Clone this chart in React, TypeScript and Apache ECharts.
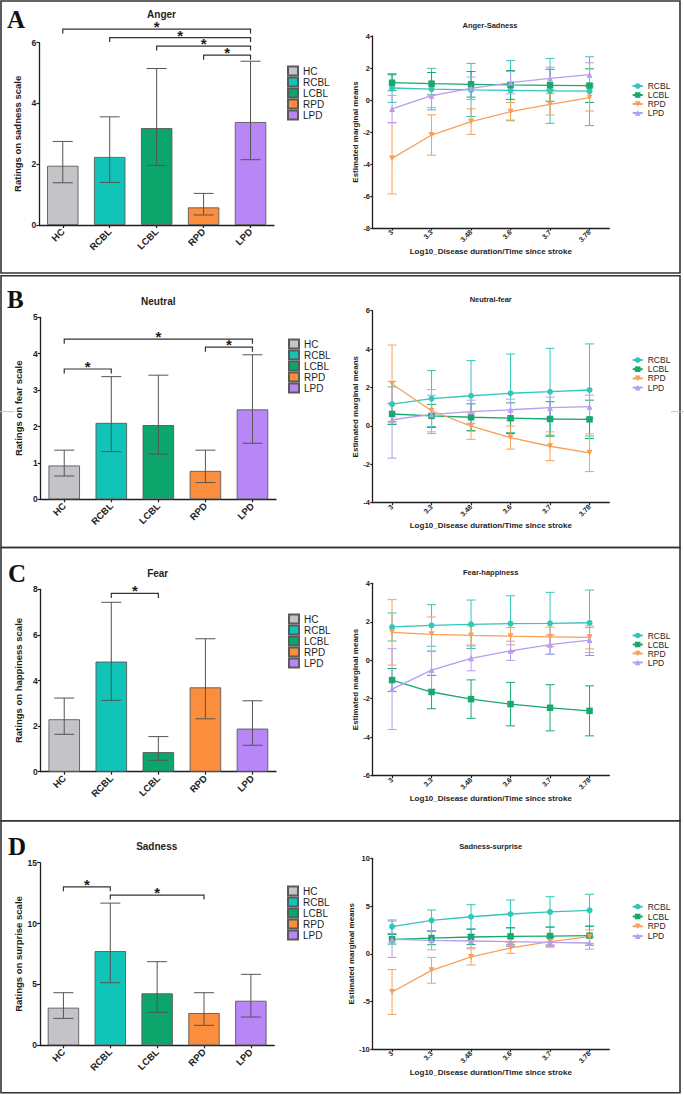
import React, { useEffect, useRef } from 'react';
import * as echarts from 'echarts';

// ---------- categories ----------
const groups = ['HC', 'RCBL', 'LCBL', 'RPD', 'LPD'];
const durations = ['3', '3.3', '3.48', '3.6', '3.7', '3.78'];
const lineGroups = ['RCBL', 'LCBL', 'RPD', 'LPD'];

// ---------- bar panels: means and CI bounds ----------
const angerMeans = [1.95, 2.24, 3.19, 0.58, 3.39];
const angerLow = [1.39, 1.40, 1.96, 0.33, 2.15];
const angerHigh = [2.75, 3.56, 5.15, 1.04, 5.39];
const angerSig = [[0, 4, 6.45], [1, 4, 6.17], [2, 4, 5.89], [3, 4, 5.59]];

const neutralMeans = [0.93, 2.10, 2.04, 0.78, 2.47];
const neutralLow = [0.64, 1.31, 1.24, 0.46, 1.54];
const neutralHigh = [1.35, 3.37, 3.41, 1.35, 3.97];
const neutralSig = [[0, 4, 4.40], [3, 4, 4.18], [0, 1, 3.58]];

const fearMeans = [2.30, 4.83, 0.86, 3.70, 1.89];
const fearLow = [1.64, 3.13, 0.50, 2.32, 1.16];
const fearHigh = [3.23, 7.43, 1.54, 5.83, 3.11];
const fearSig = [[1, 2, 7.82]];

const sadnessMeans = [3.09, 7.74, 4.27, 2.65, 3.66];
const sadnessLow = [2.21, 5.14, 2.71, 1.64, 2.32];
const sadnessHigh = [4.32, 11.68, 6.87, 4.32, 5.83];
const sadnessSig = [[0, 1, 13.02], [1, 3, 12.34]];

// ---------- line panels: estimated marginal means and CI half-widths ----------
const asRCBL = [0.75, 0.68, 0.63, 0.60, 0.57, 0.55];
const asRCBLe = [0.90, 1.30, 1.66, 1.86, 2.03, 2.15];
const asLCBL = [1.08, 1.02, 0.98, 0.94, 0.92, 0.90];
const asLCBLe = [0.50, 0.70, 0.80, 0.90, 1.00, 1.05];
const asRPD = [-3.65, -2.19, -1.35, -0.73, -0.27, 0.15];
const asRPDe = [2.22, 1.26, 0.80, 0.57, 0.67, 0.84];
const asLPD = [-0.56, 0.27, 0.73, 1.08, 1.35, 1.58];
const asLPDe = [0.85, 0.75, 0.70, 0.70, 0.70, 0.75];

const nfRCBL = [1.13, 1.42, 1.57, 1.70, 1.78, 1.87];
const nfRCBLe = [0.90, 1.46, 1.83, 2.04, 2.26, 2.40];
const nfLCBL = [0.62, 0.52, 0.45, 0.40, 0.36, 0.34];
const nfLCBLe = [0.55, 0.60, 0.70, 0.80, 0.90, 1.00];
const nfRPD = [2.18, 0.79, -0.01, -0.61, -1.06, -1.40];
const nfRPDe = [2.03, 1.10, 0.69, 0.60, 0.75, 0.98];
const nfLPD = [0.32, 0.60, 0.74, 0.84, 0.95, 1.00];
const nfLPDe = [2.00, 1.00, 0.60, 0.55, 0.55, 0.60];

const fhRCBL = [1.73, 1.81, 1.87, 1.90, 1.92, 1.95];
const fhRCBLe = [0.73, 1.08, 1.26, 1.45, 1.61, 1.70];
const fhLCBL = [-1.03, -1.65, -2.02, -2.28, -2.47, -2.63];
const fhLCBLe = [0.60, 0.87, 1.00, 1.13, 1.20, 1.30];
const fhRPD = [1.45, 1.35, 1.29, 1.25, 1.22, 1.19];
const fhRPDe = [1.70, 0.90, 0.50, 0.45, 0.50, 0.60];
const fhLPD = [-1.50, -0.51, 0.10, 0.49, 0.81, 1.05];
const fhLPDe = [2.10, 1.00, 0.65, 0.50, 0.50, 0.65];

const ssRCBL = [2.84, 3.51, 3.88, 4.17, 4.38, 4.55];
const ssRCBLe = [0.70, 1.08, 1.26, 1.46, 1.60, 1.68];
const ssLCBL = [1.52, 1.65, 1.76, 1.83, 1.86, 1.90];
const ssLCBLe = [0.50, 0.70, 0.80, 0.90, 0.95, 1.00];
const ssRPD = [-4.00, -1.73, -0.33, 0.61, 1.27, 1.79];
const ssRPDe = [2.35, 1.35, 0.84, 0.56, 0.53, 0.70];
const ssLPD = [1.52, 1.41, 1.34, 1.27, 1.20, 1.13];
const ssLPDe = [1.90, 1.00, 0.70, 0.50, 0.50, 0.65];

// ---------- styles / layout ----------
const FONT = '"Liberation Sans", Arial, Helvetica, sans-serif';
const SERIF = '"Liberation Serif", "Times New Roman", serif';
const INK = '#1e1e1e';
const barColors = ['#c4c4c8', '#10c4b8', '#0ca66d', '#fb8e3d', '#b886f6'];
const lineColors = ['#33c6ba', '#17a96e', '#f7a057', '#b79cf0'];
const lineSymbols: [string, number, number][] = [
  ['circle', 6, 0],
  ['rect', 6.5, 0],
  ['triangle', 6, 180],
  ['triangle', 6, 0],
];

const barPanels = [
  { key: 'A', title: 'Anger', yName: 'Ratings on sadness scale', max: 6, interval: 2,
    means: angerMeans, low: angerLow, high: angerHigh, sig: angerSig,
    grid: { left: 39.3, top: 42.7, width: 234.7, height: 182.3 },
    legend: { left: 287, top: 65.5, lh: 10.4 }, letter: [7, 19.5], titlePos: [161.5, 14] },
  { key: 'B', title: 'Neutral', yName: 'Ratings on fear scale', max: 5, interval: 1,
    means: neutralMeans, low: neutralLow, high: neutralHigh, sig: neutralSig,
    grid: { left: 40.7, top: 317.3, width: 235.3, height: 182 },
    legend: { left: 288, top: 338.5, lh: 11 }, letter: [7, 299.5], titlePos: [158.3, 301.7] },
  { key: 'C', title: 'Fear', yName: 'Ratings on happiness scale', max: 8, interval: 2,
    means: fearMeans, low: fearLow, high: fearHigh, sig: fearSig,
    grid: { left: 40.7, top: 589.3, width: 235.3, height: 182.4 },
    legend: { left: 288, top: 613.6, lh: 10.2 }, letter: [8, 573], titlePos: [157.7, 573.3] },
  { key: 'D', title: 'Sadness', yName: 'Ratings on surprise scale', max: 15, interval: 5,
    means: sadnessMeans, low: sadnessLow, high: sadnessHigh, sig: sadnessSig,
    grid: { left: 40, top: 862.7, width: 234.3, height: 182.6 },
    legend: { left: 287, top: 885.5, lh: 10.4 }, letter: [8, 846.3], titlePos: [156.7, 846.7] },
];

const linePanels = [
  { key: 'A', title: 'Anger-Sadness', min: -8, max: 4, interval: 2,
    means: [asRCBL, asLCBL, asRPD, asLPD], errs: [asRCBLe, asLCBLe, asRPDe, asLPDe],
    grid: { left: 372.3, top: 36, width: 237, height: 192 },
    legend: { left: 631.7, top: 81.5, lh: 9 }, titlePos: [490, 25.5] },
  { key: 'B', title: 'Neutral-fear', min: -4, max: 6, interval: 2,
    means: [nfRCBL, nfLCBL, nfRPD, nfLPD], errs: [nfRCBLe, nfLCBLe, nfRPDe, nfLPDe],
    grid: { left: 372.3, top: 310.7, width: 237, height: 192 },
    legend: { left: 631.7, top: 355.4, lh: 9.2 }, titlePos: [490.7, 299.3] },
  { key: 'C', title: 'Fear-happiness', min: -6, max: 4, interval: 2,
    means: [fhRCBL, fhLCBL, fhRPD, fhLPD], errs: [fhRCBLe, fhLCBLe, fhRPDe, fhLPDe],
    grid: { left: 372.3, top: 583.3, width: 237, height: 192.4 },
    legend: { left: 631.7, top: 631, lh: 8.7 }, titlePos: [490.7, 572.3] },
  { key: 'D', title: 'Sadness-surprise', min: -10, max: 10, interval: 5,
    means: [ssRCBL, ssLCBL, ssRPD, ssLPD], errs: [ssRCBLe, ssLCBLe, ssRPDe, ssLPDe],
    grid: { left: 372.3, top: 858.3, width: 237, height: 191 },
    legend: { left: 631.7, top: 901.8, lh: 9.8 }, titlePos: [490.7, 846.7] },
];

function errRender(color: string, cap: number, width: number) {
  return (_params: any, api: any) => {
    const x = api.value(0);
    const lo = api.coord([x, api.value(1)]);
    const hi = api.coord([x, api.value(2)]);
    const st = { stroke: color, lineWidth: width };
    return {
      type: 'group',
      children: [
        { type: 'line', shape: { x1: hi[0], y1: hi[1], x2: lo[0], y2: lo[1] }, style: st },
        { type: 'line', shape: { x1: hi[0] - cap / 2, y1: hi[1], x2: hi[0] + cap / 2, y2: hi[1] }, style: st },
        { type: 'line', shape: { x1: lo[0] - cap / 2, y1: lo[1], x2: lo[0] + cap / 2, y2: lo[1] }, style: st },
      ],
    };
  };
}

function sigRender(_params: any, api: any) {
  const a = api.coord([api.value(0), api.value(2)]);
  const b = api.coord([api.value(1), api.value(2)]);
  const drop = 4.5;
  return {
    type: 'group',
    children: [
      {
        type: 'polyline',
        shape: { points: [[a[0], a[1] + drop], [a[0], a[1]], [b[0], b[1]], [b[0], b[1] + drop]] },
        style: { stroke: '#333', lineWidth: 1.2, fill: 'none' },
      },
      {
        type: 'text',
        x: (a[0] + b[0]) / 2,
        y: a[1] - 2.5,
        style: { text: '*', fill: INK, fontSize: 15, fontWeight: 'bold', fontFamily: FONT, align: 'center', verticalAlign: 'middle' },
      },
    ],
  };
}

function buildOption() {
  const grid: any[] = [];
  const xAxis: any[] = [];
  const yAxis: any[] = [];
  const series: any[] = [];
  const legend: any[] = [];
  const graphic: any[] = [];

  const axisLine = { show: true, onZero: false, lineStyle: { color: INK, width: 1.3 } };

  // panel frames
  const frames = [
    [1, 1, 679, 272],
    [1, 275.7, 679, 271.8],
    [1, 547.5, 679, 273.2],
    [1, 820.7, 679, 272],
  ];
  frames.forEach(([x, y, w, h]) => {
    graphic.push({ type: 'rect', shape: { x, y, width: w, height: h }, style: { fill: 'none', stroke: '#333', lineWidth: 1.6 }, silent: true });
  });
  // faint guide artefacts in panel B
  graphic.push({ type: 'line', shape: { x1: 0, y1: 411.7, x2: 14, y2: 411.7 }, style: { stroke: '#a9c8e8', lineWidth: 1 }, silent: true });
  graphic.push({ type: 'line', shape: { x1: 671, y1: 411.7, x2: 684, y2: 411.7 }, style: { stroke: '#a9c8e8', lineWidth: 1 }, silent: true });

  barPanels.forEach((p) => {
    const gi = grid.length;
    grid.push({ ...p.grid });
    xAxis.push({
      gridIndex: gi, type: 'category', data: groups,
      axisLine, axisTick: { show: true, alignWithLabel: true, length: 3, lineStyle: { color: INK, width: 1.2 } },
      axisLabel: { rotate: 45, fontSize: 9.5, fontWeight: 'bold', fontFamily: FONT, color: INK, margin: 5 },
      splitLine: { show: false },
    });
    yAxis.push({
      gridIndex: gi, type: 'value', min: 0, max: p.max, interval: p.interval,
      name: p.yName, nameLocation: 'middle', nameGap: 17,
      nameTextStyle: { fontSize: 9.5, fontWeight: 'bold', fontFamily: FONT, color: INK },
      axisLine, axisTick: { show: true, length: 3, lineStyle: { color: INK, width: 1.2 } },
      axisLabel: { fontSize: 8.5, fontWeight: 'bold', fontFamily: FONT, color: INK, margin: 3 },
      splitLine: { show: false },
    });
    groups.forEach((g, j) => {
      series.push({
        type: 'bar', name: `${p.key}b|${g}`, xAxisIndex: gi, yAxisIndex: gi,
        data: p.means.map((v, k) => (k === j ? v : '-')),
        barWidth: '67%', barGap: '-100%',
        itemStyle: { color: barColors[j], borderColor: '#5a5a5a', borderWidth: 0.9 },
        silent: true,
      });
    });
    series.push({
      type: 'custom', name: `${p.key}err`, xAxisIndex: gi, yAxisIndex: gi,
      data: groups.map((_g, j) => [j, p.low[j], p.high[j]]),
      encode: { x: 0, y: [1, 2] }, renderItem: errRender('#555', 20, 1), z: 5, silent: true,
    });
    series.push({
      type: 'custom', name: `${p.key}sig`, xAxisIndex: gi, yAxisIndex: gi,
      data: p.sig, encode: { x: [0, 1], y: 2 }, renderItem: sigRender, clip: false, z: 6, silent: true,
    });
    legend.push({
      orient: 'vertical', left: p.legend.left, top: p.legend.top, padding: 0,
      itemWidth: 10, itemHeight: 9, itemGap: 0, icon: 'rect', selectedMode: false,
      textStyle: { fontSize: 10, fontFamily: FONT, color: INK, lineHeight: p.legend.lh },
      data: groups.map((g) => `${p.key}b|${g}`),
      formatter: (n: string) => n.split('|')[1],
    });
    graphic.push({
      type: 'text', x: p.letter[0], y: p.letter[1],
      style: { text: p.key, fontFamily: SERIF, fontWeight: 'bold', fontSize: 25, fill: '#111', align: 'left', verticalAlign: 'middle' },
      silent: true,
    });
    graphic.push({
      type: 'text', x: p.titlePos[0], y: p.titlePos[1],
      style: { text: p.title, fontFamily: FONT, fontWeight: 'bold', fontSize: 10, fill: INK, align: 'center', verticalAlign: 'middle' },
      silent: true,
    });
  });

  linePanels.forEach((p) => {
    const gi = grid.length;
    grid.push({ ...p.grid });
    xAxis.push({
      gridIndex: gi, type: 'category', data: durations, boundaryGap: true,
      name: 'Log10_Disease duration/Time since stroke', nameLocation: 'middle', nameGap: 19,
      nameTextStyle: { fontSize: 8, fontWeight: 'bold', fontFamily: FONT, color: INK },
      axisLine, axisTick: { show: true, alignWithLabel: true, length: 2.5, lineStyle: { color: INK, width: 1.2 } },
      axisLabel: { rotate: 45, fontSize: 7, fontWeight: 'bold', fontFamily: FONT, color: INK, margin: 3 },
      splitLine: { show: false },
    });
    yAxis.push({
      gridIndex: gi, type: 'value', min: p.min, max: p.max, interval: p.interval,
      name: 'Estimated marginal means', nameLocation: 'middle', nameGap: 10.5,
      nameTextStyle: { fontSize: 8, fontWeight: 'bold', fontFamily: FONT, color: INK },
      axisLine, axisTick: { show: true, length: 2, lineStyle: { color: INK, width: 1.2 } },
      axisLabel: { fontSize: 7.5, fontWeight: 'bold', fontFamily: FONT, color: INK, margin: 2.5 },
      splitLine: { show: false },
    });
    lineGroups.forEach((g, j) => {
      series.push({
        type: 'custom', name: `${p.key}le|${g}`, xAxisIndex: gi, yAxisIndex: gi,
        data: durations.map((_d, k) => [k, p.means[j][k] - p.errs[j][k], p.means[j][k] + p.errs[j][k]]),
        encode: { x: 0, y: [1, 2] }, renderItem: errRender(lineColors[j], 9, 1), z: 2, silent: true,
        itemStyle: { opacity: 0.55 },
      });
    });
    lineGroups.forEach((g, j) => {
      const [sym, size, rot] = lineSymbols[j];
      series.push({
        type: 'line', name: `${p.key}l|${g}`, xAxisIndex: gi, yAxisIndex: gi,
        data: p.means[j], symbol: sym, symbolSize: size, symbolRotate: rot, showSymbol: true,
        itemStyle: { color: lineColors[j] }, lineStyle: { color: lineColors[j], width: 1.3 },
        z: 4, silent: true,
      });
    });
    legend.push({
      orient: 'vertical', left: p.legend.left, top: p.legend.top, padding: 0,
      itemWidth: 10, itemHeight: 7, itemGap: 0, selectedMode: false,
      textStyle: { fontSize: 8.5, fontFamily: FONT, color: INK, lineHeight: p.legend.lh },
      data: lineGroups.map((g) => `${p.key}l|${g}`),
      formatter: (n: string) => n.split('|')[1],
    });
    graphic.push({
      type: 'text', x: p.titlePos[0], y: p.titlePos[1],
      style: { text: p.title, fontFamily: FONT, fontWeight: 'bold', fontSize: 7.5, fill: INK, align: 'center', verticalAlign: 'middle' },
      silent: true,
    });
  });

  return {
    animation: false,
    backgroundColor: '#ffffff',
    grid, xAxis, yAxis, series, legend, graphic,
  };
}

export default function App() {
  const ref = useRef<HTMLDivElement>(null);
  useEffect(() => {
    document.body.style.margin = '0';
    const chart = echarts.init(ref.current as HTMLDivElement, null, { renderer: 'svg' });
    chart.setOption(buildOption() as any);
    return () => {
      chart.dispose();
    };
  }, []);
  return <div ref={ref} style={{ width: 684, height: 1095, background: '#fff' }} />;
}
